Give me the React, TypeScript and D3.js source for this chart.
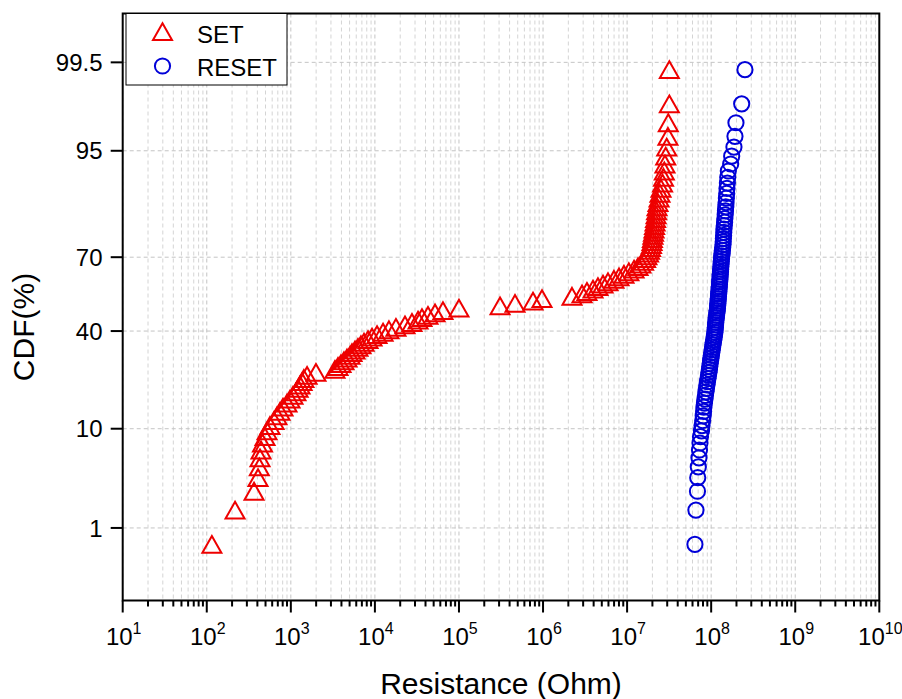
import React from 'react';
import * as d3 from 'd3';

// Resistance values (Ohm), sorted ascending
const SET_OHM: number[] = [
  115, 217, 365, 407, 422, 430, 442, 460, 493, 521,
  565, 631, 684, 743, 807, 900, 977, 1060, 1150, 1220,
  1285, 1360, 1430, 1560, 1990, 3350, 3640, 3950, 4290, 4660,
  5060, 5340, 5800, 6290, 6830, 7420, 8280, 9240, 10600, 12500,
  14700, 17800, 22800, 27600, 32600, 36300, 42800, 51900, 64500, 1.0e5,
  3.08e5, 4.64e5, 7.6e5, 9.72e5, 2.21e6, 2.91e6, 3.33e6, 3.93e6, 4.5e6, 5.17e6,
  5.93e6, 6.98e6, 8.01e6, 9.18e6, 1.05e7, 1.21e7, 1.35e7, 1.46e7, 1.57e7, 1.66e7,
  1.72e7, 1.8e7, 1.85e7, 1.9e7, 1.95e7, 1.98e7, 2.0e7, 2.03e7, 2.06e7, 2.09e7,
  2.12e7, 2.15e7, 2.18e7, 2.21e7, 2.24e7, 2.27e7, 2.33e7, 2.4e7, 2.46e7, 2.53e7,
  2.64e7, 2.71e7, 2.77e7, 2.82e7, 2.88e7, 2.96e7, 3.06e7, 3.09e7, 3.18e7, 3.18e7,
];

const RESET_OHM: number[] = [
  6.41e7, 6.59e7, 6.87e7, 6.92e7, 7.03e7, 7.16e7, 7.26e7, 7.36e7, 7.46e7, 7.67e7,
  7.78e7, 7.93e7, 8.04e7, 8.13e7, 8.2e7, 8.32e7, 8.43e7, 8.55e7, 8.67e7, 8.79e7,
  8.91e7, 9.04e7, 9.16e7, 9.29e7, 9.42e7, 9.53e7, 9.62e7, 9.73e7, 9.84e7, 9.95e7,
  1.005e8, 1.016e8, 1.028e8, 1.04e8, 1.05e8, 1.062e8, 1.074e8, 1.086e8, 1.096e8, 1.109e8,
  1.114e8, 1.122e8, 1.127e8, 1.135e8, 1.14e8, 1.151e8, 1.159e8, 1.169e8, 1.178e8, 1.189e8,
  1.194e8, 1.202e8, 1.208e8, 1.213e8, 1.222e8, 1.227e8, 1.236e8, 1.242e8, 1.247e8, 1.256e8,
  1.262e8, 1.271e8, 1.276e8, 1.282e8, 1.291e8, 1.297e8, 1.303e8, 1.312e8, 1.318e8, 1.327e8,
  1.337e8, 1.349e8, 1.358e8, 1.371e8, 1.384e8, 1.39e8, 1.396e8, 1.406e8, 1.413e8, 1.419e8,
  1.432e8, 1.445e8, 1.455e8, 1.469e8, 1.479e8, 1.493e8, 1.503e8, 1.517e8, 1.531e8, 1.542e8,
  1.56e8, 1.574e8, 1.6e8, 1.706e8, 1.754e8, 1.866e8, 1.919e8, 1.972e8, 2.307e8, 2.523e8,
];

const Y_TICKS: number[] = [1, 10, 40, 70, 95, 99.5];
const X_EXPONENTS: number[] = [1, 2, 3, 4, 5, 6, 7, 8, 9, 10];
const SERIES_NAMES: string[] = ['SET', 'RESET'];
const X_TITLE = 'Resistance (Ohm)';
const Y_TITLE = 'CDF(%)';

const W = 902;
const H = 699;
const PL = 122.7, PR = 879.3, PT = 13.5, PB = 600.5;
const RED = '#ee0000';
const BLUE = '#0000d8';
const FONT = '"Liberation Sans", Arial, sans-serif';

function probit(p: number): number {
  const a = [-3.969683028665376e1, 2.209460984245205e2, -2.759285104469687e2, 1.38357751867269e2, -3.066479806614716e1, 2.506628277459239];
  const b = [-5.447609879822406e1, 1.615858368580409e2, -1.556989798598866e2, 6.680131188771972e1, -1.328068155288572e1];
  const c = [-7.784894002430293e-3, -3.223964580411365e-1, -2.400758277161838, -2.549732539343734, 4.374664141464968, 2.938163982698783];
  const d = [7.784695709041462e-3, 3.224671290700398e-1, 2.445134137142996, 3.754408661907416];
  const pl = 0.02425;
  if (p < pl) {
    const q = Math.sqrt(-2 * Math.log(p));
    return (((((c[0] * q + c[1]) * q + c[2]) * q + c[3]) * q + c[4]) * q + c[5]) / ((((d[0] * q + d[1]) * q + d[2]) * q + d[3]) * q + 1);
  }
  if (p <= 1 - pl) {
    const q = p - 0.5;
    const r = q * q;
    return ((((((a[0] * r + a[1]) * r + a[2]) * r + a[3]) * r + a[4]) * r + a[5]) * q) / (((((b[0] * r + b[1]) * r + b[2]) * r + b[3]) * r + b[4]) * r + 1);
  }
  const q = Math.sqrt(-2 * Math.log(1 - p));
  return -(((((c[0] * q + c[1]) * q + c[2]) * q + c[3]) * q + c[4]) * q + c[5]) / ((((d[0] * q + d[1]) * q + d[2]) * q + d[3]) * q + 1);
}

const TRI = 'M0,-8.4L9.5,8.4L-9.5,8.4Z';

export default function App() {
  const x = d3.scaleLog().domain([1e1, 1e10]).range([PL, PR]);
  const zScale = d3.scaleLinear().domain([probit(0.001), probit(0.999)]).range([PB, PT]);
  const y = (pct: number) => zScale(probit(pct / 100));

  const rank = (arr: number[]) => {
    const n = arr.length;
    return arr.map((v, i) => ({ v, p: ((i + 1 - 0.375) / (n + 0.25)) * 100 }));
  };
  const setPts = rank(SET_OHM);
  const resetPts = rank(RESET_OHM);

  const minorVals: number[] = [];
  for (let e = 1; e < 10; e++) {
    for (let m = 2; m <= 9; m++) minorVals.push(m * Math.pow(10, e));
  }
  const majorVals = X_EXPONENTS.map((e) => Math.pow(10, e));

  return (
    <svg width={W} height={H} style={{ position: 'absolute', left: 0, top: 0, background: '#fff' }}>
      <rect x={0} y={0} width={W} height={H} fill="#fff" />
      {/* grid */}
      <g stroke="#c4c4c4" strokeWidth={1} strokeDasharray="4,3" fill="none">
        {minorVals.map((v, i) => (
          <line key={'gm' + i} x1={x(v)} x2={x(v)} y1={PT} y2={PB} stroke="#d4d4d4" />
        ))}
        {majorVals.map((v, i) => (
          <line key={'gM' + i} x1={x(v)} x2={x(v)} y1={PT} y2={PB} />
        ))}
        {Y_TICKS.map((t, i) => (
          <line key={'gy' + i} x1={PL} x2={PR} y1={y(t)} y2={y(t)} />
        ))}
      </g>
      {/* SET */}
      <g fill="none" stroke={RED} strokeWidth={2}>
        {setPts.map((d, i) => (
          <path key={'s' + i} d={TRI} transform={`translate(${x(d.v)},${y(d.p)})`} />
        ))}
      </g>
      {/* RESET */}
      <g fill="none" stroke={BLUE} strokeWidth={2}>
        {resetPts.map((d, i) => (
          <circle key={'r' + i} cx={x(d.v)} cy={y(d.p)} r={7.6} />
        ))}
      </g>
      {/* frame */}
      <rect x={PL} y={PT} width={PR - PL} height={PB - PT} fill="none" stroke="#000" strokeWidth={2} />
      {/* ticks */}
      <g stroke="#000" strokeWidth={2}>
        {minorVals.map((v, i) => (
          <line key={'tm' + i} x1={x(v)} x2={x(v)} y1={PB} y2={PB + 6} />
        ))}
        {majorVals.map((v, i) => (
          <line key={'tM' + i} x1={x(v)} x2={x(v)} y1={PB} y2={PB + 12} />
        ))}
        {Y_TICKS.map((t, i) => (
          <line key={'ty' + i} x1={PL - 12} x2={PL} y1={y(t)} y2={y(t)} />
        ))}
      </g>
      {/* labels */}
      <g fontFamily={FONT} fill="#000">
        {X_EXPONENTS.map((e, i) => (
          <text key={'xl' + i} x={x(Math.pow(10, e)) + 1} y={645} textAnchor="middle" fontSize={24}>
            10
            <tspan fontSize={16} dy={-11}>{e}</tspan>
          </text>
        ))}
        {Y_TICKS.map((t, i) => (
          <text key={'yl' + i} x={102.5} y={y(t)} dy="0.36em" textAnchor="end" fontSize={24}>
            {String(t)}
          </text>
        ))}
        <text x={(PL + PR) / 2} y={694} textAnchor="middle" fontSize={30}>
          {X_TITLE}
        </text>
        <text transform={`translate(34,327) rotate(-90)`} textAnchor="middle" fontSize={30}>
          {Y_TITLE}
        </text>
      </g>
      {/* legend */}
      <g>
        <rect x={126} y={PT} width={161} height={71.5} fill="#fff" stroke="#000" strokeWidth={1} />
        <path d={TRI} transform="translate(162.5,31.7)" fill="none" stroke={RED} strokeWidth={2} />
        <circle cx={162.5} cy={66} r={7.6} fill="none" stroke={BLUE} strokeWidth={2} />
        <text x={197} y={42.5} fontFamily={FONT} fontSize={24} fill="#000">{SERIES_NAMES[0]}</text>
        <text x={197} y={75.5} fontFamily={FONT} fontSize={24} fill="#000">{SERIES_NAMES[1]}</text>
      </g>
    </svg>
  );
}
